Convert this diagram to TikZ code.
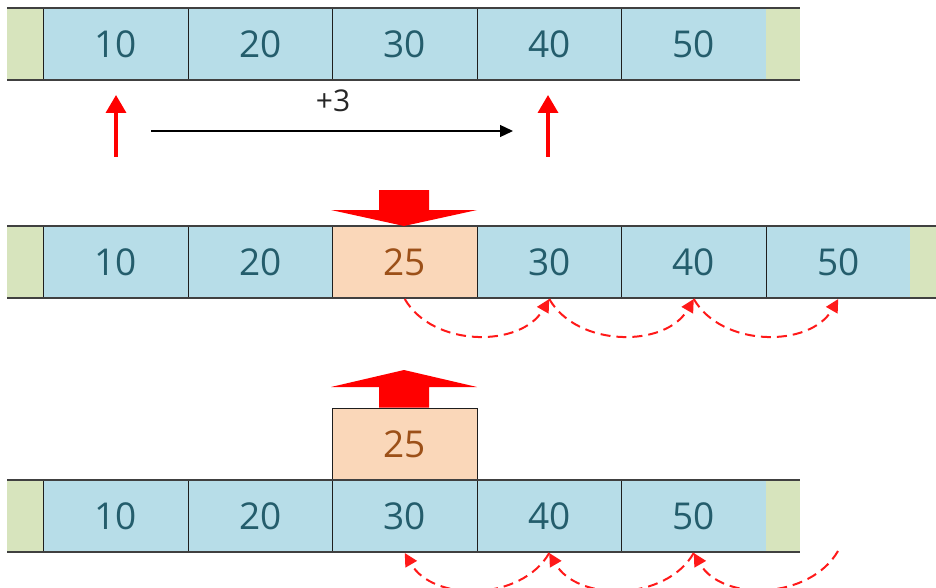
\documentclass[tikz,border=0pt]{standalone}
\usepackage{fontspec}
\setmainfont{Open Sans}
\usetikzlibrary{arrows.meta,calc}
\definecolor{cellblue}{HTML}{B7DDE8}
\definecolor{capgreen}{HTML}{D7E4BD}
\definecolor{cellorange}{HTML}{FAD7B9}
\definecolor{celltext}{HTML}{245D6C}
\definecolor{orangetext}{HTML}{9C5018}
\definecolor{linegray}{HTML}{1E1E1E}
\definecolor{rowgray}{HTML}{404040}
\begin{document}
\begin{tikzpicture}[x=1pt,y=-1pt,
  cell/.style={draw=linegray,line width=1pt,fill=cellblue,minimum width=144.5pt,minimum height=72pt,inner sep=0pt,anchor=north west,font=\fontsize{37}{40}\selectfont,text=celltext},
  newcell/.style={cell,fill=cellorange,text=orangetext},
  capbox/.style={fill=capgreen,minimum height=72pt,inner sep=0pt,anchor=north west},
  rowline/.style={draw=rowgray,line width=2pt},
  redarrow/.style={draw=red,line width=3.5pt,-{Triangle[length=18pt,width=20pt]}},
  blackarrow/.style={draw=black,line width=1.3pt,-{Triangle[length=13pt,width=12pt]}},
  dasharc/.style={draw=red!90!white,line width=2pt,dash pattern=on 10pt off 6pt,-{Triangle[length=13pt,width=13pt]},looseness=1},
  blockarrow/.style={fill=red}
]
\useasboundingbox (0,0) rectangle (936,588);

% ---------- Row 1 ----------
\node[capbox,minimum width=36pt] (r1L) at (7,8) {};
\node[cell] (r1c1) at (43,8) {10};
\node[cell] (r1c2) at (187.5,8) {20};
\node[cell] (r1c3) at (332,8) {30};
\node[cell] (r1c4) at (476.5,8) {40};
\node[cell] (r1c5) at (621,8) {50};
\node[capbox,minimum width=34.5pt] (r1R) at (765.5,8) {};
\draw[rowline] (r1L.north west) -- (r1R.north east);
\draw[rowline] (r1L.south west) -- (r1R.south east);

\coordinate (u1s) at (116,157);
\coordinate (u1t) at (116,95);
\coordinate (u2s) at (548,157);
\coordinate (u2t) at (548,95);
\draw[redarrow] (u1s) -- (u1t);
\draw[redarrow] (u2s) -- (u2t);
\coordinate (bs) at (151,131);
\coordinate (bt) at (513,131);
\draw[blackarrow] (bs) -- (bt);
\node[font=\fontsize{30}{32}\selectfont,text=black!85] (plus) at (333,101) {+3};

% ---------- Row 2 ----------
\node[capbox,minimum width=36pt] (r2L) at (7,226) {};
\node[cell] (r2c1) at (43,226) {10};
\node[cell] (r2c2) at (187.5,226) {20};
\node[newcell] (r2c3) at (332,226) {25};
\node[cell] (r2c4) at (476.5,226) {30};
\node[cell] (r2c5) at (621,226) {40};
\node[cell] (r2c6) at (765.5,226) {50};
\node[capbox,minimum width=26pt] (r2R) at (910,226) {};
\draw[rowline] (r2L.north west) -- (r2R.north east);
\draw[rowline] (r2L.south west) -- (r2R.south east);

\fill[blockarrow] (379,190) -- (429,190) -- (429,210) -- (477,210) -- (404,226) -- (331,210) -- (379,210) -- cycle;

\draw[dasharc] (r2c3.south) to[out=-60,in=-120] (r2c4.south);
\draw[dasharc] (r2c4.south) to[out=-60,in=-120] (r2c5.south);
\draw[dasharc] (r2c5.south) to[out=-60,in=-120] (r2c6.south);

% ---------- Row 3 ----------
\node[newcell] (up) at (332,407.5) {25};
\node[capbox,minimum width=36pt] (r3L) at (7,480) {};
\node[cell] (r3c1) at (43,480) {10};
\node[cell] (r3c2) at (187.5,480) {20};
\node[cell] (r3c3) at (332,480) {30};
\node[cell] (r3c4) at (476.5,480) {40};
\node[cell] (r3c5) at (621,480) {50};
\node[capbox,minimum width=34.5pt] (r3R) at (765.5,480) {};
\draw[rowline] (r3L.north west) -- (r3R.north east);
\draw[rowline] (r3L.south west) -- (r3R.south east);

\fill[blockarrow] (404,370) -- (477,387) -- (429,387) -- (429,407.5) -- (379,407.5) -- (379,387) -- (331,387) -- cycle;

\coordinate (tail) at (838,551);
\draw[dasharc] (tail) to[out=-120,in=-60] (r3c5.south);
\draw[dasharc] (r3c5.south) to[out=-120,in=-60] (r3c4.south);
\draw[dasharc] (r3c4.south) to[out=-120,in=-60] (r3c3.south);
\end{tikzpicture}
\end{document}
